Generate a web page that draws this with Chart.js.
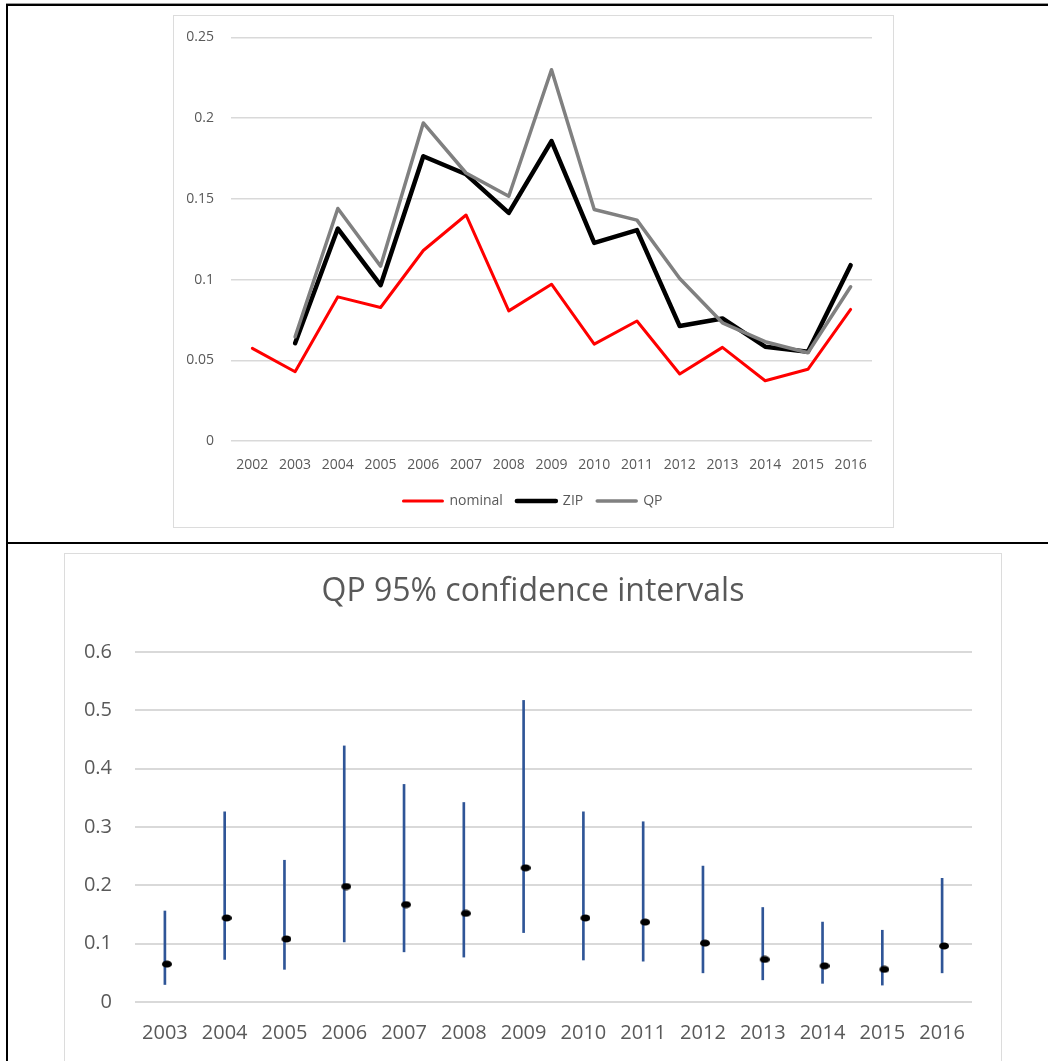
<!DOCTYPE html>
<html>
<head>
<meta charset="utf-8">
<script src="https://cdn.jsdelivr.net/npm/chart.js@4.4.1/dist/chart.umd.min.js"></script>
<style>
  html, body { margin: 0; padding: 0; background: #fff; }
  body { width: 1048px; height: 1061px; position: relative; overflow: hidden; }
  .rule { position: absolute; background: #000; }
  .frame { position: absolute; border: 1.5px solid #dcdcdc; box-sizing: border-box; }
  canvas { position: absolute; }
</style>
</head>
<body>
<div class="rule" style="left:6px; top:3px; width:1042px; height:1px; background:#999"></div>
<div class="rule" style="left:6px; top:4px; width:1042px; height:2px"></div>
<div class="rule" style="left:6px; top:4px; width:2px; height:1057px"></div>
<div class="rule" style="left:6px; top:542px; width:1042px; height:2px"></div>

<div class="frame" style="left:173px; top:15px; width:721px; height:513px"></div>
<div class="frame" style="left:64px; top:553px; width:938px; height:520px"></div>

<canvas id="lines" width="720" height="515" style="left:173px; top:12px"></canvas>
<canvas id="ci" width="936" height="508" style="left:65px; top:553px"></canvas>

<script>
// top chart: estimated rates per year
const years = ['2002','2003','2004','2005','2006','2007','2008','2009','2010','2011','2012','2013','2014','2015','2016'];
const nominal = [0.0574, 0.0429, 0.0893, 0.0827, 0.118, 0.140, 0.0806, 0.0971, 0.060, 0.0743, 0.0415, 0.058, 0.0373, 0.0444, 0.0815];
const zip = [null, 0.0606, 0.1316, 0.0965, 0.1764, 0.1652, 0.1413, 0.1858, 0.1227, 0.1306, 0.0712, 0.0759, 0.0584, 0.0553, 0.1089];
const qp = [null, 0.0646, 0.144, 0.1083, 0.197, 0.166, 0.1516, 0.230, 0.1434, 0.1368, 0.1007, 0.0732, 0.0615, 0.0547, 0.0955];

// bottom chart: QP estimate with 95% interval
const ciYears = ['2003','2004','2005','2006','2007','2008','2009','2010','2011','2012','2013','2014','2015','2016'];
const ciEstimate = [0.065, 0.144, 0.108, 0.198, 0.167, 0.152, 0.230, 0.144, 0.137, 0.101, 0.073, 0.062, 0.056, 0.096];
const ciLow = [0.030, 0.073, 0.056, 0.103, 0.086, 0.077, 0.119, 0.072, 0.070, 0.050, 0.038, 0.032, 0.029, 0.050];
const ciHigh = [0.156, 0.326, 0.243, 0.439, 0.373, 0.342, 0.517, 0.326, 0.309, 0.233, 0.162, 0.137, 0.123, 0.212];

Chart.defaults.font.family = "'Open Sans', sans-serif";
Chart.defaults.color = '#595959';
Chart.defaults.animation = false;

const grey = '#d9d9d9';
const fmt = v => String(+v.toFixed(2));

// empty right-hand axis, just reserves the gap so legend/title centre on the whole frame
const spacer = w => ({
  position: 'right',
  grid: { display: false },
  border: { display: false },
  ticks: { display: false },
  afterFit: axis => { axis.width = w; }
});

new Chart(document.getElementById('lines'), {
  type: 'line',
  data: {
    labels: years,
    datasets: [
      { label: 'nominal', data: nominal, borderColor: '#ff0000', backgroundColor: '#ff0000', borderWidth: 3, order: 3 },
      { label: 'ZIP', data: zip, borderColor: '#000000', backgroundColor: '#000000', borderWidth: 4.5, order: 2 },
      { label: 'QP', data: qp, borderColor: '#808080', backgroundColor: '#808080', borderWidth: 3.5, order: 1 }
    ]
  },
  options: {
    responsive: false,
    devicePixelRatio: 1,
    datasets: { line: { pointRadius: 0, borderCapStyle: 'round', borderJoinStyle: 'round', tension: 0 } },
    layout: { padding: { left: 0, right: 0, top: 20, bottom: 9 } },
    plugins: {
      tooltip: { enabled: false },
      legend: {
        position: 'bottom',
        labels: {
          boxWidth: 39, boxHeight: 0, padding: 14,
          font: { size: 14 },
          sort: (a, b) => a.datasetIndex - b.datasetIndex
        }
      }
    },
    scales: {
      x: {
        offset: true,
        grid: { display: false },
        border: { display: false },
        ticks: { padding: 8, font: { size: 14 }, maxRotation: 0 },
        afterFit: axis => { axis.height = 39; }
      },
      y: {
        min: 0, max: 0.25,
        grid: { color: grey, lineWidth: 1.5, drawTicks: false },
        border: { display: false },
        ticks: { stepSize: 0.05, padding: 17, font: { size: 14 }, callback: fmt },
        afterFit: axis => { axis.width = 58; }
      },
      pad: spacer(21)
    }
  }
});

// black oval marker, drawn a little right of centre like the original
const dot = document.createElement('canvas');
dot.width = 14; dot.height = 8;
const dc = dot.getContext('2d');
dc.fillStyle = '#000';
dc.beginPath();
dc.ellipse(9, 4, 5, 3.6, 0, 0, Math.PI * 2);
dc.fill();

new Chart(document.getElementById('ci'), {
  type: 'bar',
  data: {
    labels: ciYears,
    datasets: [
      {
        type: 'line', label: 'QP', data: ciEstimate,
        showLine: false, pointStyle: dot, pointRadius: 5, order: 0
      },
      {
        label: '95% CI', data: ciYears.map((y, i) => [ciLow[i], ciHigh[i]]),
        backgroundColor: '#2f5597', borderWidth: 0, barThickness: 2, grouped: false, order: 1
      }
    ]
  },
  options: {
    responsive: false,
    devicePixelRatio: 1,
    layout: { padding: { left: 0, right: 0, top: 0, bottom: 0 } },
    plugins: {
      tooltip: { enabled: false },
      legend: { display: false },
      title: {
        display: true,
        text: 'QP 95% confidence intervals',
        font: { size: 32, weight: 'normal' },
        color: '#595959',
        padding: { top: 20, bottom: 40.6 }
      }
    },
    scales: {
      x: {
        offset: true,
        grid: { display: false },
        border: { display: false },
        ticks: { padding: 11, font: { size: 20 }, maxRotation: 0 },
        afterFit: axis => { axis.height = 59; }
      },
      y: {
        min: 0, max: 0.6,
        grid: { color: grey, lineWidth: 2, drawTicks: false },
        border: { display: false },
        ticks: { stepSize: 0.1, padding: 23, font: { size: 20 }, callback: fmt },
        afterFit: axis => { axis.width = 70; }
      },
      pad: spacer(29)
    }
  }
});
</script>
</body>
</html>
